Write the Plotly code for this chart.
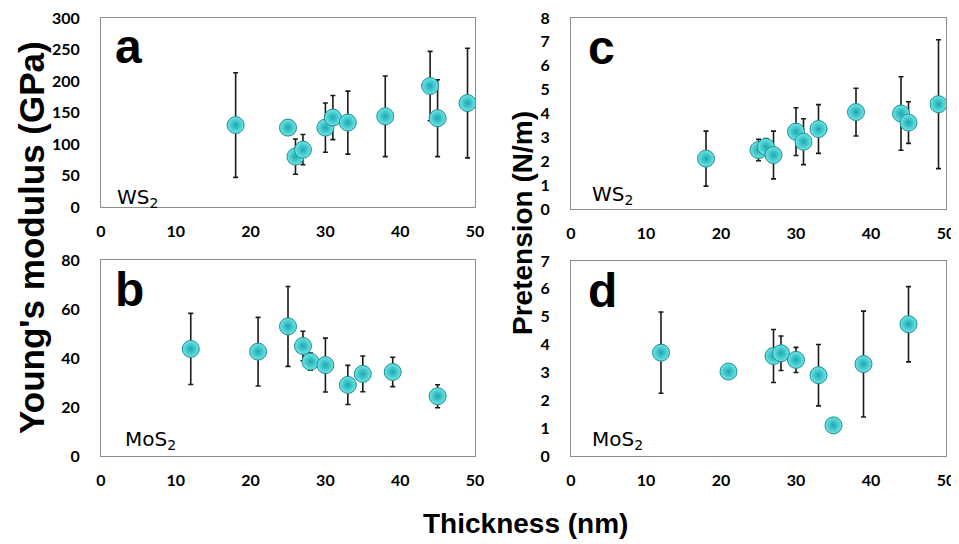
import plotly.graph_objects as go

# the page body adds an 8px margin, so the figure is a bit smaller than the window
OFF = 8
W, H = 959 - OFF, 544 - OFF

# WS2 (panels a and c share thicknesses)
ws2_thickness = [18, 25, 26, 27, 30, 31, 33, 38, 44, 45, 49]
ws2_modulus = [130, 126, 80, 91, 126, 142, 134, 144, 192, 141, 165]
ws2_modulus_err = [83, 0, 28, 24, 39, 35, 50, 64, 55, 61, 87]
ws2_thickness_c = [18, 25, 26, 27, 30, 31, 33, 38, 44, 45, 49]
ws2_pretension = [2.11, 2.47, 2.6, 2.26, 3.24, 2.82, 3.35, 4.06, 4.0, 3.62, 4.39]
ws2_pretension_err = [1.15, 0.45, 0.35, 1.0, 1.0, 0.96, 1.02, 1.0, 1.54, 0.87, 2.7]

# MoS2
mos2_thickness = [12, 21, 25, 27, 28, 30, 33, 35, 39, 45]
mos2_modulus = [43.7, 42.6, 52.9, 44.9, 38.5, 37.1, 29.0, 33.5, 34.3, 24.4]
mos2_modulus_err = [14.5, 14, 16.3, 6, 3.5, 11, 8, 7.3, 6, 4.7]
mos2_thickness_d = [12, 21, 27, 28, 30, 33, 35, 39, 45]
mos2_pretension = [3.71, 3.03, 3.59, 3.69, 3.45, 2.9, 1.1, 3.3, 4.73]
mos2_pretension_err = [1.46, 0, 0.95, 0.62, 0.45, 1.1, 0, 1.9, 1.35]

x_ticks = [0, 10, 20, 30, 40, 50]


def px(x):
    return (x - OFF) / W


def py(y):
    return 1 - (y - OFF) / H


def scatter(x, y, err, xa, ya):
    return go.Scatter(
        x=x, y=y, mode="markers", xaxis=xa, yaxis=ya, showlegend=False,
        error_y=dict(type="data", array=err, visible=True, color="#1a1a1a",
                     thickness=1.6, width=2.5),
        marker=dict(size=17, color="#70e6e6",
                    gradient=dict(type="radial", color="#18a8b0"),
                    line=dict(color="#1b8f96", width=1)),
    )


fig = go.Figure()
fig.add_trace(scatter(ws2_thickness, ws2_modulus, ws2_modulus_err, "x", "y"))
fig.add_trace(scatter(mos2_thickness, mos2_modulus, mos2_modulus_err, "x2", "y2"))
fig.add_trace(scatter(ws2_thickness_c, ws2_pretension, ws2_pretension_err, "x3", "y3"))
fig.add_trace(scatter(mos2_thickness_d, mos2_pretension, mos2_pretension_err, "x4", "y4"))

tick_font = dict(family="Lato", size=16, color="black", weight="bold")
frame = dict(showline=True, linecolor="#8c8c8c", linewidth=1, mirror=True,
             showgrid=False, zeroline=False, tickfont=tick_font,
             ticks="outside", tickcolor="rgba(0,0,0,0)", automargin=False,
             ticklabeloverflow="allow")

xa = dict(frame, range=[0, 50], tickvals=x_ticks, ticklen=10)
left_dom = [px(101), px(475)]
right_dom = [px(571), px(946)]

fig.update_layout(
    width=W, height=H, margin=dict(l=0, r=0, t=0, b=0, autoexpand=False),
    plot_bgcolor="white", paper_bgcolor="white",
    xaxis=dict(xa, domain=left_dom, anchor="y"),
    yaxis=dict(frame, domain=[py(207), py(18)], range=[0, 300], dtick=50,
               ticklen=17, anchor="x"),
    xaxis2=dict(xa, domain=left_dom, anchor="y2"),
    yaxis2=dict(frame, domain=[py(456), py(260)], range=[0, 80], dtick=20,
                ticklen=17, anchor="x2"),
    xaxis3=dict(xa, domain=right_dom, anchor="y3"),
    yaxis3=dict(frame, domain=[py(209), py(18)], range=[0, 8], dtick=1,
                ticklen=17, anchor="x3"),
    xaxis4=dict(xa, domain=right_dom, anchor="y4"),
    yaxis4=dict(frame, domain=[py(456), py(261)], range=[0, 7], dtick=1,
                ticklen=17, anchor="x4"),
)

letter_font = dict(family="Liberation Sans", size=48, color="black", weight="bold")
label_font = dict(family="DejaVu Sans", size=20, color="black")
notes = [
    ("a", 113, 18, letter_font),
    ("b", 113, 261, letter_font),
    ("c", 586, 19, letter_font),
    ("d", 586, 262, letter_font),
    ("WS<sub>2</sub>", 115, 183, label_font),
    ("MoS<sub>2</sub>", 123, 425, label_font),
    ("WS<sub>2</sub>", 590, 180, label_font),
    ("MoS<sub>2</sub>", 590, 425, label_font),
]
for text, x, y, font in notes:
    fig.add_annotation(text=text, x=px(x), y=py(y), xref="paper", yref="paper",
                       xanchor="left", yanchor="top", showarrow=False, font=font)

fig.add_annotation(text="Young's modulus (GPa)", x=px(31), y=py(238),
                   xref="paper", yref="paper", xanchor="center", yanchor="middle",
                   textangle=-90, showarrow=False,
                   font=dict(family="Liberation Sans", size=35, color="black",
                             weight="bold"))
fig.add_annotation(text="Pretension (N/m)", x=px(522), y=py(223),
                   xref="paper", yref="paper", xanchor="center", yanchor="middle",
                   textangle=-90, showarrow=False,
                   font=dict(family="Liberation Sans", size=28, color="black",
                             weight="bold"))
fig.add_annotation(text="Thickness (nm)", x=px(525), y=py(523),
                   xref="paper", yref="paper", xanchor="center", yanchor="middle",
                   showarrow=False,
                   font=dict(family="Liberation Sans", size=28, color="black",
                             weight="bold"))

fig.write_html("out.html")
